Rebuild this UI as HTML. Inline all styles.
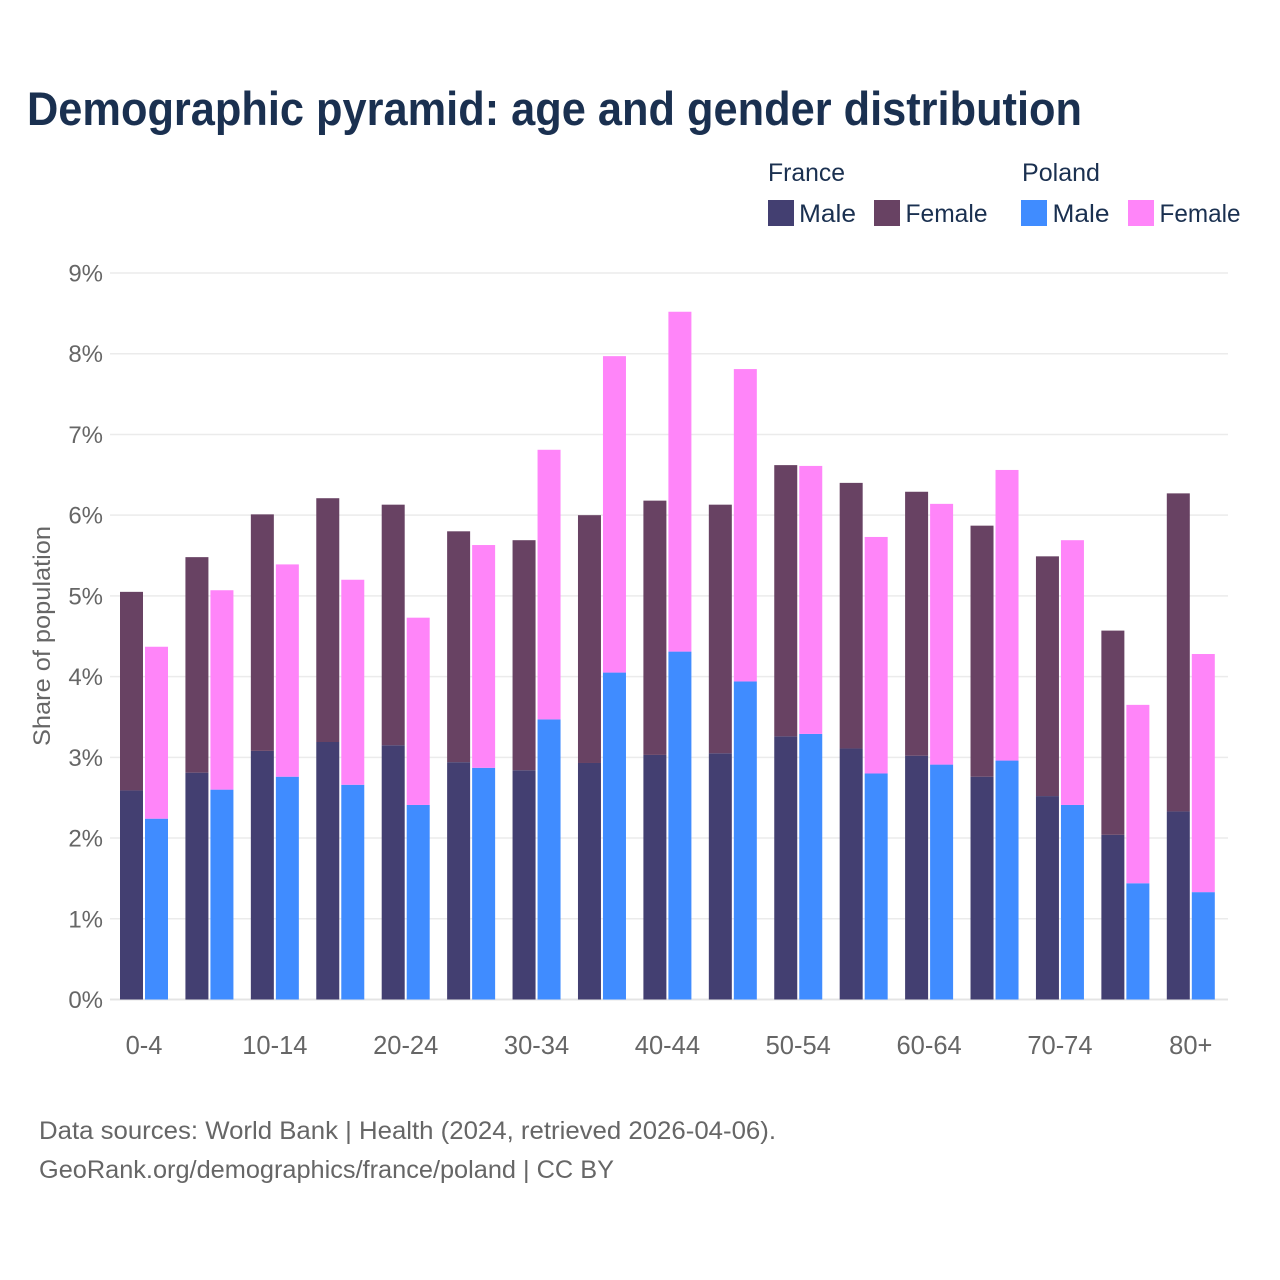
<!DOCTYPE html>
<html lang="en">
<head>
<meta charset="utf-8">
<title>Demographic pyramid</title>
<style>
html,body{margin:0;padding:0;background:#fff;width:1280px;height:1280px;overflow:hidden}
svg{display:block;font-family:"Liberation Sans",sans-serif}
</style>
</head>
<body>
<svg id="chart" width="1280" height="1280" viewBox="0 0 1280 1280" xmlns="http://www.w3.org/2000/svg">
<rect x="0" y="0" width="1280" height="1280" fill="#fff"/>
<text x="27" y="125" font-size="47" font-weight="700" fill="#1a3050" textLength="1055" lengthAdjust="spacingAndGlyphs">Demographic pyramid: age and gender distribution</text>
<g font-size="25" fill="#1a3050">
<text x="768" y="181" textLength="77" lengthAdjust="spacingAndGlyphs">France</text>
<text x="1022" y="181" textLength="78" lengthAdjust="spacingAndGlyphs">Poland</text>
<rect x="768" y="200" width="26" height="26" fill="#433f71"/>
<text x="799" y="222" textLength="57" lengthAdjust="spacingAndGlyphs">Male</text>
<rect x="874" y="200" width="26" height="26" fill="#684263"/>
<text x="905.5" y="222" textLength="82" lengthAdjust="spacingAndGlyphs">Female</text>
<rect x="1021" y="200" width="26" height="26" fill="#408cff"/>
<text x="1052.5" y="222" textLength="57" lengthAdjust="spacingAndGlyphs">Male</text>
<rect x="1128" y="200" width="26" height="26" fill="#ff85f9"/>
<text x="1159.5" y="222" textLength="81" lengthAdjust="spacingAndGlyphs">Female</text>
</g>
<text transform="translate(50 636) rotate(-90)" text-anchor="middle" font-size="24" fill="#666" textLength="220" lengthAdjust="spacingAndGlyphs">Share of population</text>
<g id="grid"></g>
<g id="bars"></g>
<g id="yticks" font-size="24" fill="#666" text-anchor="end"></g>
<g id="xticks" font-size="25.5" fill="#666" text-anchor="middle"></g>
<text x="39" y="1139" font-size="25" fill="#666" textLength="737" lengthAdjust="spacingAndGlyphs">Data sources: World Bank | Health (2024, retrieved 2026-04-06).</text>
<text x="39" y="1178" font-size="25" fill="#666" textLength="575" lengthAdjust="spacingAndGlyphs">GeoRank.org/demographics/france/poland | CC BY</text>
</svg>
<script>
const categories = ["0-4","5-9","10-14","15-19","20-24","25-29","30-34","35-39","40-44","45-49","50-54","55-59","60-64","65-69","70-74","75-79","80+"];
const xTickLabels = ["0-4","10-14","20-24","30-34","40-44","50-54","60-64","70-74","80+"];
const yTickValues = [0,1,2,3,4,5,6,7,8,9];
const franceMale = [2.59,2.81,3.08,3.19,3.15,2.94,2.84,2.93,3.03,3.05,3.26,3.11,3.02,2.76,2.52,2.04,2.33];
const franceFemale = [2.46,2.67,2.93,3.02,2.98,2.86,2.85,3.07,3.15,3.08,3.36,3.29,3.27,3.11,2.97,2.53,3.94];
const polandMale = [2.24,2.60,2.76,2.66,2.41,2.87,3.47,4.05,4.31,3.94,3.29,2.80,2.91,2.96,2.41,1.44,1.33];
const polandFemale = [2.13,2.47,2.63,2.54,2.32,2.76,3.34,3.92,4.21,3.87,3.32,2.93,3.23,3.60,3.28,2.21,2.95];

const NS = "http://www.w3.org/2000/svg";
const plotLeft = 110, plotRight = 1228, plotBottom = 999.5, plotTop = 273;
const yMax = 9, firstCenter = 144, lastCenter = 1190.8;
const barWidth = 23, barGap = 2;
function yScale(v){ return plotBottom - v / yMax * (plotBottom - plotTop); }
function xScale(i){ return firstCenter + i * (lastCenter - firstCenter) / (categories.length - 1); }
const grid = document.getElementById("grid");
const bars = document.getElementById("bars");
const yticks = document.getElementById("yticks");
const xticks = document.getElementById("xticks");

yTickValues.forEach(function(t){
  const line = document.createElementNS(NS, "line");
  
  
  line.setAttribute("x1", plotLeft);
  line.setAttribute("x2", plotRight);
  line.setAttribute("y1", yScale(t));
  line.setAttribute("y2", yScale(t));
  line.setAttribute("stroke", t === 0 ? "#e4e4e4" : "#ebebeb");
  line.setAttribute("stroke-width", t === 0 ? 2 : 1.5);
  grid.appendChild(line);
  const label = document.createElementNS(NS, "text");
  
  
  label.setAttribute("x", 103);
  label.setAttribute("y", yScale(t) + 8.5);
  label.textContent = t + "%";
  yticks.appendChild(label);
});

function drawSegment(x, v0, v1, color, name){
  const r = document.createElementNS(NS, "rect");
  
  
  r.setAttribute("x", x);
  r.setAttribute("y", yScale(v1));
  r.setAttribute("width", barWidth);
  r.setAttribute("height", yScale(v0) - yScale(v1));
  r.setAttribute("fill", color);
  bars.appendChild(r);
}

categories.forEach(function(c, i){
  const cx = xScale(i);
  const fx = cx - barGap / 2 - barWidth;
  const px = cx + barGap / 2;
  drawSegment(fx, 0, franceMale[i], "#433f71", "bar-france-male");
  drawSegment(fx, franceMale[i], franceMale[i] + franceFemale[i], "#684263", "bar-france-female");
  drawSegment(px, 0, polandMale[i], "#408cff", "bar-poland-male");
  drawSegment(px, polandMale[i], polandMale[i] + polandFemale[i], "#ff85f9", "bar-poland-female");
  if (xTickLabels.indexOf(c) >= 0) {
    const label = document.createElementNS(NS, "text");
    
    
    label.setAttribute("x", cx);
    label.setAttribute("y", 1054);
    label.textContent = c;
    xticks.appendChild(label);
  }
});
</script>
</body>
</html>
